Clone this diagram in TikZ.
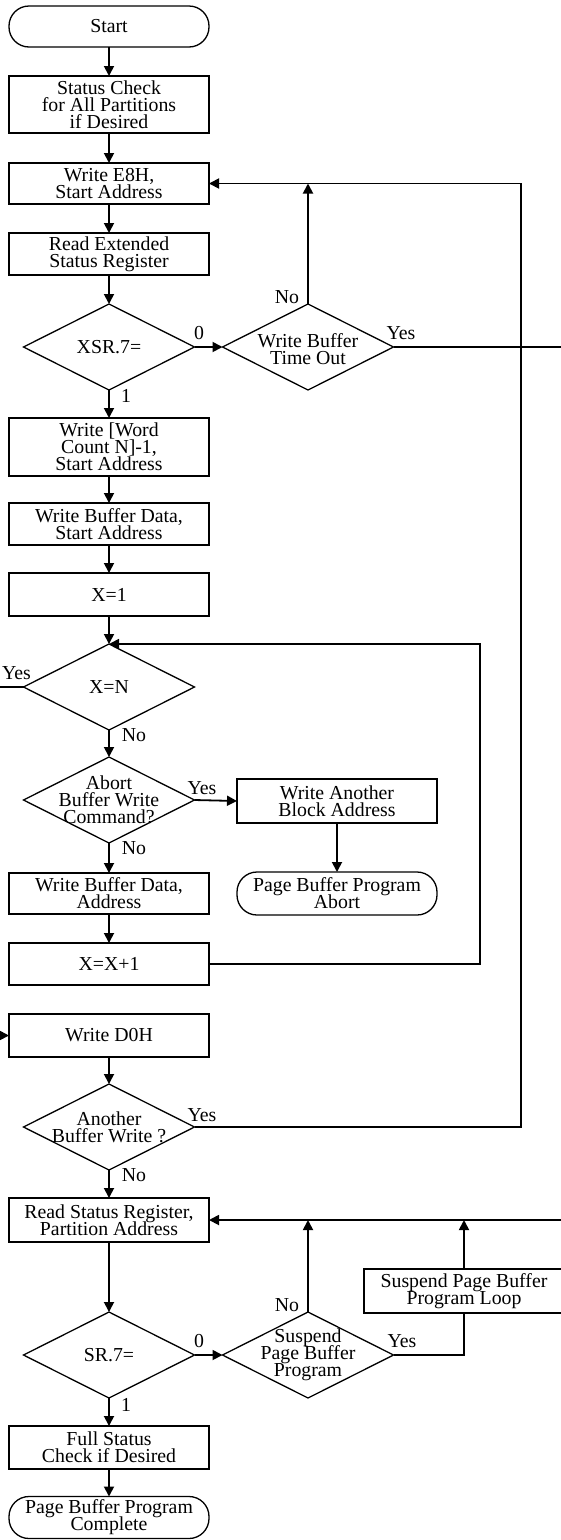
\documentclass[tikz,border=0pt]{standalone}
\usepackage{fontspec}
\setmainfont{Liberation Serif}
\usetikzlibrary{shapes.geometric,arrows.meta}
\newcommand{\fsz}{\fontsize{19.8}{17}\selectfont\lineskiplimit=-30pt\lineskip=0pt}
\tikzset{
  box/.style={draw, line width=1.3pt, minimum width=200pt, inner sep=0pt, outer sep=0pt, align=center, font=\fsz},
  term/.style={box, rounded corners=20pt},
  dia/.style={draw, shape=diamond, line width=1.3pt, minimum width=171pt, minimum height=86pt, inner sep=0pt, outer sep=0pt},
  dtext/.style={inner sep=0pt, align=center, font=\fsz},
  lbl/.style={inner sep=0pt, font=\fsz},
  conn/.style={line width=1.8pt},
  arr/.style={conn, -{Triangle[length=10pt,width=10pt]}},
}
\begin{document}
\begin{tikzpicture}[x=1pt, y=-1pt]
\useasboundingbox (0,0) rectangle (561,1540);
% main column
\node[term, minimum height=41pt] (start) at (109,26.5) {Start};
\node[box, minimum height=57pt] (check) at (109,104.5) {Status Check\\for All Partitions\\if Desired};
\node[box, minimum height=41pt] (e8h) at (109,183.5) {Write E8H,\\Start Address};
\node[box, minimum height=42pt] (readx) at (109,254) {Read Extended\\Status Register};
\node[dia] (xsr) at (109,347) {};
\node[dtext] (xsrt) at (109,347) {XSR.7=};
\node[dia] (wbto) at (308,347) {};
\node[dtext] (wbtot) at (308,349) {Write Buffer\\Time Out};
\node[box, minimum height=58pt] (wc) at (109,447) {Write [Word\\Count N]-1,\\Start Address};
\node[box, minimum height=42pt] (wbd) at (109,524) {Write Buffer Data,\\Start Address};
\node[box, minimum height=43pt] (x1) at (109,594.5) {X=1};
\node[dia] (xn) at (109,687) {};
\node[dtext] (xnt) at (109,687) {X=N};
\node[dia] (abort) at (109,800) {};
\node[dtext] (abortt) at (109,800) {Abort\\Buffer Write\\Command?};
\node[box, minimum height=44pt] (wab) at (337,801) {Write Another\\Block Address};
\node[box, minimum height=41pt] (wbda) at (109,893.5) {Write Buffer Data,\\Address};
\node[term, minimum height=43pt] (pbpa) at (337,893.5) {Page Buffer Program\\Abort};
\node[box, minimum height=42pt] (xx1) at (109,964) {X=X+1};
\node[box, minimum height=43pt] (d0h) at (109,1035.5) {Write D0H};
\node[dia] (another) at (109,1127) {};
\node[dtext] (anothert) at (109,1127) {Another\\Buffer Write ?};
\node[box, minimum height=44pt] (rsr) at (109,1220) {Read Status Register,\\Partition Address};
\node[dia] (sr7) at (109,1355) {};
\node[dtext] (sr7t) at (109,1355) {SR.7=};
\node[dia] (spbp) at (308,1355) {};
\node[dtext] (spbpt) at (308,1355) {Suspend\\Page Buffer\\Program};
\node[box, minimum height=44pt] (spbl) at (464,1291) {Suspend Page Buffer\\Program Loop};
\node[box, minimum height=43pt] (full) at (109,1447.5) {Full Status\\Check if Desired};
\node[term, minimum height=42pt] (complete) at (109,1517.5) {Page Buffer Program\\Complete};
% free ends and corners
\coordinate (nojoin) at (308,183.5);
\coordinate (rx1) at (561,347);
\coordinate (lx1) at (0,687);
\coordinate (lx2) at (0,1035.5);
\coordinate (rx2) at (561,1220);
\coordinate (loopA) at (480,964);
\coordinate (loopB) at (480,644);
\coordinate (bigA) at (521,1127);
\coordinate (bigB) at (521,183.5);
\coordinate (spA) at (308,1220);
\coordinate (spB) at (464,1355);
\coordinate (spC) at (464,1220);
% connectors
\draw[arr] (start) -- (check);
\draw[arr] (check) -- (e8h);
\draw[arr] (e8h) -- (readx);
\draw[arr] (readx) -- (xsr.north);
\draw[arr] (xsr.east) -- (wbto.west);
\draw[arr] (wbto.north) -- (nojoin);
\draw[conn] (wbto.east) -- (rx1);
\draw[arr] (xsr.south) -- (wc);
\draw[arr] (wc) -- (wbd);
\draw[arr] (wbd) -- (x1);
\draw[arr] (x1) -- (xn.north);
\draw[conn] (xn.west) -- (lx1);
\draw[arr] (xn.south) -- (abort.north);
\draw[arr] (abort.east) -- (wab.west);
\draw[arr] (wab) -- (pbpa);
\draw[arr] (abort.south) -- (wbda);
\draw[arr] (wbda) -- (xx1);
\draw[arr] (xx1.east) -- (loopA) -- (loopB) -- (xn.north);
\draw[arr] (lx2) -- (d0h.west);
\draw[arr] (d0h) -- (another.north);
\draw[arr] (another.east) -- (bigA) -- (bigB) -- (e8h.east);
\draw[arr] (another.south) -- (rsr);
\draw[arr] (rx2) -- (rsr.east);
\draw[arr] (rsr) -- (sr7.north);
\draw[arr] (sr7.east) -- (spbp.west);
\draw[arr] (spbp.north) -- (spA);
\draw[conn] (spbp.east) -- (spB) -- (spbl.south);
\draw[arr] (spbl.north) -- (spC);
\draw[arr] (sr7.south) -- (full);
\draw[arr] (full) -- (complete);
% labels
\node[lbl] (l0a) at (199,333) {0};
\node[lbl] (l1a) at (126,396) {1};
\node[lbl] (lnoa) at (287,297) {No};
\node[lbl] (lyesa) at (401,333) {Yes};
\node[lbl] (lyesb) at (16.5,673) {Yes};
\node[lbl] (lnob) at (134,735) {No};
\node[lbl] (lyesc) at (202,788) {Yes};
\node[lbl] (lnoc) at (134,848) {No};
\node[lbl] (lyesd) at (202,1115) {Yes};
\node[lbl] (lnod) at (134,1175) {No};
\node[lbl] (l0b) at (199,1341) {0};
\node[lbl] (l1b) at (126,1405) {1};
\node[lbl] (lnoe) at (287,1305) {No};
\node[lbl] (lyese) at (402,1341) {Yes};
\end{tikzpicture}
\end{document}
